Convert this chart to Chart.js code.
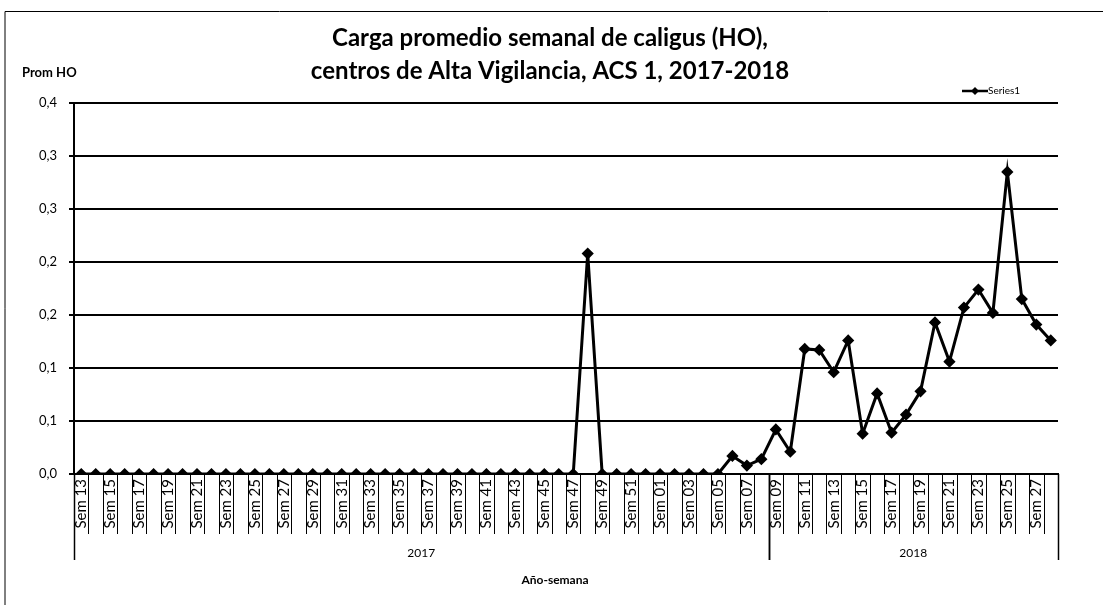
<!DOCTYPE html>
<html>
<head>
<meta charset="utf-8">
<script src="https://cdn.jsdelivr.net/npm/chart.js@4"></script>
<style>
  html, body { margin: 0; padding: 0; background: #fff; }
  #wrap { width: 1103px; height: 605px; }
</style>
</head>
<body>
<div id="wrap"><canvas id="grafico" width="1103" height="605"></canvas></div>
<script>
// Semanas (eje X, primer nivel)
const semanas = [
  'Sem 13','Sem 14','Sem 15','Sem 16','Sem 17','Sem 18','Sem 19','Sem 20','Sem 21','Sem 22',
  'Sem 23','Sem 24','Sem 25','Sem 26','Sem 27','Sem 28','Sem 29','Sem 30','Sem 31','Sem 32',
  'Sem 33','Sem 34','Sem 35','Sem 36','Sem 37','Sem 38','Sem 39','Sem 40','Sem 41','Sem 42',
  'Sem 43','Sem 44','Sem 45','Sem 46','Sem 47','Sem 48','Sem 49','Sem 50','Sem 51','Sem 52',
  'Sem 01','Sem 02','Sem 03','Sem 04','Sem 05','Sem 06','Sem 07','Sem 08',
  'Sem 09','Sem 10','Sem 11','Sem 12','Sem 13','Sem 14','Sem 15','Sem 16','Sem 17','Sem 18',
  'Sem 19','Sem 20','Sem 21','Sem 22','Sem 23','Sem 24','Sem 25','Sem 26','Sem 27','Sem 28'
];
// Años (eje X, segundo nivel) y cuántas semanas abarca cada uno
const anios = ['2017', '2018'];
const aniosCantidad = [48, 20];

// Prom HO por semana
const promHO = [
  0, 0, 0, 0, 0, 0, 0, 0, 0, 0,
  0, 0, 0, 0, 0, 0, 0, 0, 0, 0,
  0, 0, 0, 0, 0, 0, 0, 0, 0, 0,
  0, 0, 0, 0, 0, 0.208, 0, 0, 0, 0,
  0, 0, 0, 0, 0, 0.017, 0.008, 0.014,
  0.042, 0.021, 0.118, 0.117, 0.096, 0.126, 0.038, 0.076, 0.039, 0.056,
  0.078, 0.143, 0.106, 0.157, 0.174, 0.152, 0.285, 0.165, 0.141, 0.126
];

const tituloLineas = ['Carga promedio semanal de caligus (HO),', 'centros de Alta Vigilancia, ACS 1, 2017-2018'];
const fuente = "Lato, 'Noto Sans', sans-serif";

// Textos y lineas extra al estilo Excel
const extrasExcel = {
  id: 'extrasExcel',
  beforeDraw(chart) {
    const ctx = chart.ctx;
    ctx.save();
    ctx.strokeStyle = '#000';
    ctx.lineWidth = 1;
    ctx.beginPath();
    ctx.moveTo(5, 605); ctx.lineTo(5, 11.5); ctx.lineTo(1103, 11.5);
    ctx.stroke();
    ctx.restore();
  },
  afterDraw(chart) {
    const ctx = chart.ctx;
    const x = chart.scales.x;
    const area = chart.chartArea;
    ctx.save();
    ctx.fillStyle = '#000';
    ctx.strokeStyle = '#000';

    // titulo
    ctx.font = 'bold 24px ' + fuente;
    ctx.textAlign = 'center';
    ctx.textBaseline = 'alphabetic';
    ctx.fillText(tituloLineas[0], 550, 46);
    ctx.fillText(tituloLineas[1], 550, 79);

    // titulo eje Y
    ctx.font = 'bold 13px ' + fuente;
    ctx.textAlign = 'left';
    ctx.fillText('Prom HO', 22, 77);

    // leyenda
    ctx.textBaseline = 'middle';
    ctx.lineWidth = 2.5;
    ctx.beginPath(); ctx.moveTo(962, 91); ctx.lineTo(988, 91); ctx.stroke();
    ctx.beginPath();
    ctx.moveTo(975, 87); ctx.lineTo(979, 91); ctx.lineTo(975, 95); ctx.lineTo(971, 91);
    ctx.closePath(); ctx.fill();
    ctx.font = '10px ' + fuente;
    ctx.fillText('Series1', 988, 91);

    // separadores de categorias
    const paso = (x.getPixelForValue(1) - x.getPixelForValue(0));
    ctx.lineWidth = 1;
    for (let i = 0; i <= semanas.length; i++) {
      const px = Math.round(x.getPixelForValue(i) - paso / 2) + 0.5;
      ctx.beginPath(); ctx.moveTo(px, area.bottom); ctx.lineTo(px, area.bottom + 60); ctx.stroke();
    }

    // segundo nivel: años
    let desde = 0;
    ctx.font = '12px ' + fuente;
    ctx.textAlign = 'center';
    for (let k = 0; k < anios.length; k++) {
      const x0 = x.getPixelForValue(desde) - paso / 2;
      const x1 = x.getPixelForValue(desde + aniosCantidad[k] - 1) + paso / 2;
      ctx.lineWidth = 1.5;
      [x0, x1].forEach(px => {
        ctx.beginPath(); ctx.moveTo(Math.round(px) + 0.5, area.bottom); ctx.lineTo(Math.round(px) + 0.5, area.bottom + 86); ctx.stroke();
      });
      ctx.fillText(anios[k], (x0 + x1) / 2, 553);
      desde += aniosCantidad[k];
    }

    // titulo eje X
    ctx.font = 'bold 12px ' + fuente;
    ctx.fillText('Año-semana', 555, 580);
    ctx.restore();
  }
};

new Chart(document.getElementById('grafico'), {
  type: 'line',
  data: {
    labels: semanas,
    datasets: [{
      label: 'Series1',
      data: promHO,
      borderColor: '#000',
      backgroundColor: '#000',
      borderWidth: 3,
      pointStyle: 'rectRot',
      pointRadius: 4,
      pointBackgroundColor: '#000',
      pointBorderColor: '#000',
      tension: 0
    }]
  },
  options: {
    responsive: false,
    animation: false,
    layout: { padding: { left: 0, right: 45, top: 103, bottom: 0 } },
    plugins: {
      legend: { display: false },
      title: { display: false },
      tooltip: { enabled: false }
    },
    scales: {
      x: {
        offset: true,
        grid: { display: false, drawTicks: false },
        border: { color: '#000', width: 2 },
        ticks: {
          autoSkip: false,
          maxRotation: 90,
          minRotation: 90,
          padding: 5,
          color: '#000',
          font: { size: 15, family: fuente },
          callback: (v, i) => i % 2 === 0 ? semanas[i] : ''
        },
        afterFit(scale) { scale.height = 131; }
      },
      y: {
        min: 0,
        max: 0.35,
        grid: { color: '#000', lineWidth: 2, tickLength: 5 },
        border: { color: '#000', width: 2 },
        ticks: {
          stepSize: 0.05,
          color: '#000',
          padding: 12,
          font: { size: 13, family: fuente },
          callback: v => (Math.round(v * 10 + 1e-6) / 10).toFixed(1).replace('.', ',')
        },
        afterFit(scale) { scale.width = 74; }
      }
    }
  },
  plugins: [extrasExcel]
});
</script>
</body>
</html>
